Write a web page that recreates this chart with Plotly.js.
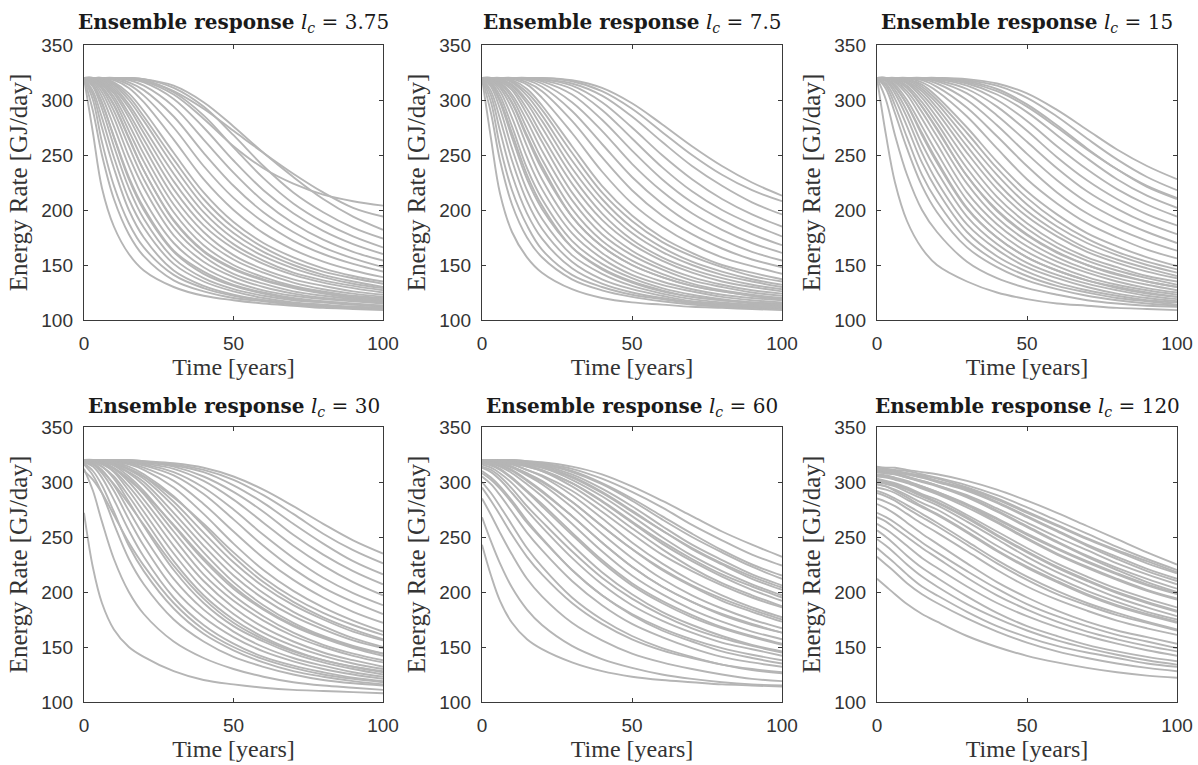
<!DOCTYPE html>
<html>
<head>
<meta charset="utf-8">
<script src="https://cdn.plot.ly/plotly-3.0.1.min.js"></script>
<style>html,body{margin:0;padding:0;background:#fff;}#chart{width:1198px;height:765px;}</style>
</head>
<body>
<div id="chart"></div>
<script>
// Time grid (years) at which each ensemble curve was read
const timeYears = [0, 3, 6, 10, 15, 20, 30, 40, 50, 60, 70, 80, 90, 100];

// Correlation lengths for each panel
const corrLengths = ['3.75', '7.5', '15', '30', '60', '120'];

// Ensemble curves, l_c = 3.75  (Energy Rate, GJ/day)
const curvesLc3_75 = [
  [320,270,220,185,160,145,130,122,118,115,113,111,110,109],
  [320,290,250,210,178,158,136,126,120,117,114,112,111,110],
  [320,305,275,238,200,175,145,131,123,118,115,113,112,111],
  [320,312,292,258,220,192,156,138,128,122,118,116,114,113],
  [320,316,303,276,240,210,170,148,135,127,122,119,117,115],
  [320,318,310,290,258,228,184,158,142,133,126,122,119,117],
  [320,319,314,300,272,244,198,168,150,139,131,126,122,120],
  [320,320,316,306,284,258,212,180,159,146,137,131,126,123],
  [320,320,318,310,293,270,226,192,169,154,143,136,131,127],
  [320,320,319,314,300,281,240,204,179,162,150,141,135,130],
  [320,320,320,316,306,290,252,216,189,170,157,147,140,135],
  [320,320,320,318,311,298,264,228,200,179,164,153,145,139],
  [320,320,320,319,314,304,275,240,211,189,172,160,151,144],
  [320,320,320,320,316,309,285,252,222,198,180,166,156,148],
  [320,320,320,320,318,313,294,264,234,208,188,173,162,154],
  [320,320,320,320,319,316,301,275,245,218,197,181,169,160],
  [320,320,320,320,320,318,307,286,257,229,206,189,176,166],
  [320,320,320,320,320,319,311,294,268,240,216,198,184,174],
  [320,320,320,320,320,319,313,298,276,252,230,210,194,182],
  [320,320,320,320,319,317,305,283,258,238,224,214,208,204],
  [320,320,320,320,320,318,308,292,272,252,233,216,202,194],
  [320,300,262,222,188,166,141,129,122,118,115,113,111,110],
  [320,314,298,266,228,200,162,142,131,124,119,116,114,112],
  [320,319,312,296,266,236,190,162,146,136,129,124,120,118],
  [320,308,284,248,210,184,151,135,126,120,116,114,112,111],
  [320,314,297,267,230,202,163,144,132,125,120,117,115,113],
  [320,317,307,284,249,220,177,153,139,130,124,120,118,116],
  [320,319,312,295,265,236,191,163,147,137,130,125,121,119],
  [320,320,315,303,278,251,205,174,155,143,134,128,124,121],
  [320,320,317,308,288,264,219,186,165,151,141,134,129,125],
  [320,320,319,312,296,275,233,198,174,158,147,139,133,129],
  [320,320,320,315,303,285,246,210,184,166,153,144,138,133]
];

// Ensemble curves, l_c = 7.5
const curvesLc7_5 = [
  [320,265,215,180,157,143,128,120,116,114,112,111,110,109],
  [320,288,245,205,175,157,137,127,121,117,114,112,111,110],
  [320,304,272,232,197,174,147,133,125,120,116,114,112,111],
  [320,312,292,256,218,192,159,142,131,124,119,116,114,113],
  [320,316,304,276,238,210,172,151,138,129,123,119,116,115],
  [320,318,311,292,258,228,186,161,145,135,128,123,120,118],
  [320,319,315,302,274,246,201,172,154,142,133,127,123,120],
  [320,320,317,309,287,262,216,184,163,149,139,132,127,124],
  [320,320,319,313,297,275,231,197,173,157,146,138,132,128],
  [320,320,320,316,304,286,245,210,184,166,153,144,137,132],
  [320,320,320,318,310,295,258,222,195,175,161,150,143,137],
  [320,320,320,319,314,302,270,235,206,185,169,157,149,142],
  [320,320,320,320,316,308,281,248,218,195,178,165,155,148],
  [320,320,320,320,318,312,290,260,230,206,187,173,162,154],
  [320,320,320,320,319,315,298,272,242,217,197,182,170,161],
  [320,320,320,320,320,317,305,282,254,228,207,191,178,168],
  [320,320,320,320,320,318,310,291,265,239,217,200,187,176],
  [320,320,320,320,320,319,313,298,275,250,228,210,196,185],
  [320,320,320,320,320,319,315,304,285,262,240,222,207,196],
  [320,320,320,320,320,320,317,308,292,271,250,232,218,208],
  [320,320,320,320,320,320,318,311,297,278,258,240,225,213],
  [320,298,258,218,186,164,141,130,123,119,115,113,112,111],
  [320,315,300,270,232,204,166,146,134,126,121,118,116,114],
  [320,319,313,298,268,240,194,167,150,139,131,126,122,119],
  [320,308,283,245,208,183,153,137,128,122,117,115,113,112],
  [320,314,298,266,228,201,166,147,135,127,121,118,115,114],
  [320,317,308,284,248,219,179,156,141,132,126,121,118,116],
  [320,319,313,297,266,237,194,167,150,139,131,126,122,119],
  [320,320,316,305,281,254,209,178,159,146,136,130,125,122],
  [320,320,318,311,292,268,224,191,169,154,143,135,130,126],
  [320,320,319,314,300,281,238,204,179,162,150,141,135,130],
  [320,320,320,317,307,291,252,216,190,171,158,148,140,135]
];

// Ensemble curves, l_c = 15
const curvesLc15 = [
  [320,268,225,190,165,150,135,125,119,115,113,111,110,109],
  [320,300,268,232,200,180,153,138,129,123,118,115,113,112],
  [320,310,288,256,222,198,166,148,136,128,122,118,115,113],
  [320,315,301,276,243,218,180,158,144,134,127,122,118,116],
  [320,318,309,290,260,235,194,169,152,141,133,127,122,119],
  [320,319,314,300,276,252,209,181,162,149,139,132,127,123],
  [320,320,317,308,289,267,224,193,172,157,146,138,132,127],
  [320,320,319,313,298,279,238,206,183,166,154,145,138,132],
  [320,320,320,316,305,289,252,219,194,176,162,152,144,138],
  [320,320,320,318,310,297,264,232,205,185,170,159,150,143],
  [320,320,320,319,314,303,275,244,217,196,179,167,157,149],
  [320,320,320,320,316,308,285,256,228,206,188,175,164,156],
  [320,320,320,320,318,312,293,267,240,216,197,183,172,163],
  [320,320,320,320,319,315,300,277,251,227,207,192,180,170],
  [320,320,320,320,320,317,306,286,262,238,217,201,188,178],
  [320,320,320,320,320,318,310,294,272,248,227,210,196,186],
  [320,320,320,320,320,319,313,300,281,258,237,219,205,194],
  [320,320,320,320,320,320,315,305,289,268,247,228,213,202],
  [320,320,320,320,320,320,317,310,296,277,256,237,221,210],
  [320,320,320,320,320,320,318,313,302,285,265,246,230,218],
  [320,320,320,320,320,320,319,315,306,291,273,255,240,228],
  [320,320,320,320,320,319,316,308,294,275,255,237,222,211],
  [320,319,312,296,270,245,202,175,157,145,136,129,124,121],
  [320,320,318,311,294,274,231,200,178,162,150,142,135,130],
  [320,313,295,266,232,208,173,153,140,131,125,120,117,114],
  [320,317,306,284,252,226,187,164,148,138,130,124,120,117],
  [320,319,312,296,268,243,201,175,157,145,136,130,125,121],
  [320,320,316,305,283,260,216,187,167,153,143,135,129,125],
  [320,320,318,311,294,273,231,199,177,161,150,141,135,130],
  [320,320,319,315,302,284,245,212,188,170,157,148,140,135],
  [320,320,320,317,308,293,258,225,199,180,165,155,147,140],
  [320,320,320,319,312,300,270,238,211,190,174,162,153,146]
];

// Ensemble curves, l_c = 30
const curvesLc30 = [
  [272,222,190,166,150,141,128,120,116,113,111,110,109,108],
  [312,292,264,230,200,180,155,140,130,123,118,115,113,111],
  [316,306,290,262,230,207,175,155,141,132,125,120,117,115],
  [318,314,304,284,256,232,195,170,153,141,133,127,122,119],
  [319,317,311,297,274,251,212,184,164,150,140,133,127,123],
  [320,318,314,305,287,267,228,197,175,159,147,138,132,127],
  [320,319,316,310,296,279,242,210,186,168,155,145,138,132],
  [320,319,318,313,303,289,255,223,197,178,163,152,144,138],
  [320,320,319,315,308,297,267,236,209,188,172,160,151,144],
  [320,320,319,317,311,303,278,248,221,199,182,169,158,150],
  [320,320,319,318,314,307,287,260,232,209,191,177,166,157],
  [320,320,320,318,316,311,295,271,244,220,201,186,174,164],
  [320,320,320,319,317,313,301,280,255,231,211,195,182,172],
  [320,320,320,319,318,315,306,289,266,242,221,204,191,180],
  [320,320,320,319,318,316,309,295,275,252,231,213,199,188],
  [320,320,320,320,319,317,312,301,284,263,242,224,209,197],
  [320,320,320,320,319,318,314,305,291,273,252,234,219,207],
  [320,320,320,320,319,318,315,309,297,281,262,244,228,216],
  [320,320,320,320,320,319,316,311,302,288,271,253,238,226],
  [320,320,320,320,320,319,317,313,305,293,278,262,247,235],
  [310,302,290,270,245,224,190,166,150,139,131,125,121,118],
  [318,316,310,298,280,261,224,194,172,157,146,138,132,128],
  [320,319,317,312,302,290,261,231,205,185,170,159,150,144],
  [320,320,319,317,312,305,286,262,236,213,195,181,170,161],
  [317,310,297,273,242,219,185,162,147,136,128,123,119,116],
  [319,316,308,292,266,242,203,177,159,146,137,130,125,121],
  [320,318,314,303,282,260,220,190,169,155,144,136,130,125],
  [320,319,317,309,292,273,235,203,180,163,151,142,135,130],
  [320,320,318,312,300,284,249,216,192,174,160,150,142,136],
  [320,320,319,315,305,292,260,229,203,184,169,158,149,142],
  [320,320,319,316,309,300,272,242,215,194,178,166,156,149],
  [320,320,320,318,312,305,282,254,227,205,188,175,164,156]
];

// Ensemble curves, l_c = 60
const curvesLc60 = [
  [243,215,192,172,157,148,136,128,123,120,118,116,115,114],
  [268,246,226,204,184,170,151,139,131,125,121,118,116,115],
  [285,270,254,234,212,196,172,156,144,136,130,125,121,119],
  [300,290,278,261,240,223,195,175,160,149,141,134,129,126],
  [310,304,296,283,265,249,220,197,179,165,155,146,140,135],
  [316,313,308,299,285,271,243,218,198,182,170,160,152,146],
  [318,317,314,308,298,287,262,237,215,198,184,173,164,157],
  [319,319,317,313,306,298,277,253,231,212,197,185,175,167],
  [320,319,318,316,311,305,288,267,245,226,210,197,186,177],
  [320,320,319,317,314,310,296,278,258,239,222,208,197,187],
  [320,320,319,318,316,313,302,287,269,250,233,219,207,197],
  [320,320,320,319,317,315,307,294,278,260,243,229,216,206],
  [320,320,320,319,318,316,310,299,285,269,253,238,225,215],
  [320,320,320,320,319,317,312,303,291,277,261,247,234,224],
  [320,320,320,320,319,318,314,307,296,283,269,255,243,232],
  [295,283,270,252,232,216,190,171,157,147,140,134,130,127],
  [313,309,302,290,274,259,231,207,188,174,163,154,148,142],
  [318,316,312,304,292,280,254,229,208,192,179,168,160,153],
  [320,319,318,314,308,301,282,260,239,220,205,192,182,173],
  [320,320,319,318,315,311,299,282,263,244,228,214,202,192],
  [320,320,319,318,316,314,305,291,274,256,239,225,212,202],
  [320,320,320,319,318,316,309,298,283,266,250,236,223,212],
  [305,298,288,273,254,238,210,188,171,159,149,141,136,132],
  [319,318,316,311,302,292,269,245,223,205,191,179,170,163],
  [314,311,305,294,278,264,237,213,194,179,167,158,151,145],
  [317,315,311,303,291,278,252,227,206,190,177,167,159,152],
  [318,317,315,310,301,291,269,245,223,205,191,180,171,163],
  [319,318,317,314,307,300,282,260,239,221,206,194,184,175],
  [320,319,318,316,311,306,292,273,253,234,219,206,195,186],
  [320,320,319,317,314,310,299,283,264,246,230,216,205,195],
  [320,320,319,318,316,313,304,290,273,256,240,226,214,204],
  [308,302,294,281,263,248,220,197,180,167,157,149,143,138]
];

// Ensemble curves, l_c = 120
const curvesLc120 = [
  [212,205,198,189,180,173,160,150,142,136,131,127,124,122],
  [232,225,218,208,198,190,176,164,154,146,140,135,131,128],
  [248,242,235,225,214,205,189,176,165,156,149,143,138,134],
  [262,257,251,242,231,222,205,190,178,168,160,153,147,142],
  [272,268,263,255,245,236,219,203,189,178,169,161,155,149],
  [285,282,278,271,262,254,237,220,205,193,183,174,167,161],
  [295,293,290,284,277,270,254,237,222,209,197,187,179,172],
  [302,300,298,294,288,282,268,252,237,223,211,200,191,183],
  [307,306,304,301,296,291,279,264,249,235,223,212,202,194],
  [310,309,308,305,301,297,287,274,260,246,233,222,212,203],
  [312,311,310,308,305,301,293,282,269,256,243,232,221,212],
  [313,312,311,310,307,304,297,288,277,265,253,241,230,220],
  [314,313,313,311,309,307,301,293,283,272,260,248,236,225],
  [256,250,243,233,222,213,196,181,169,160,152,146,141,137],
  [280,276,271,263,253,244,226,209,195,183,173,165,159,153],
  [292,289,285,279,271,263,246,229,214,201,190,181,173,166],
  [300,298,296,291,285,279,264,248,232,218,206,195,186,178],
  [305,304,302,299,294,289,277,263,248,234,222,211,201,193],
  [309,308,307,304,300,296,286,273,259,245,232,220,209,200],
  [311,310,309,307,304,300,292,281,268,255,242,230,219,210],
  [240,233,226,216,205,197,182,169,159,151,145,140,135,132],
  [298,296,293,288,281,275,259,242,227,213,201,191,182,175],
  [306,305,303,300,295,290,279,266,252,239,227,216,206,198],
  [312,311,310,308,306,303,295,285,273,261,249,238,228,218],
  [298,296,292,286,278,271,255,238,223,210,198,188,180,173],
  [303,301,299,295,289,284,270,255,240,226,214,203,194,186],
  [306,305,303,300,296,291,280,267,253,240,228,217,207,199],
  [309,308,307,304,301,297,288,276,263,250,238,226,216,207],
  [311,310,309,307,304,301,294,284,272,260,248,237,226,217],
  [290,287,283,276,268,260,243,226,211,198,188,179,172,165],
  [301,299,297,293,287,281,267,251,236,222,210,199,190,182],
  [268,264,258,250,240,231,213,197,184,173,164,157,151,146]
];

const xTickVals = [0, 50, 100];
const yTickVals = [100, 150, 200, 250, 300, 350];
const xTitleText = 'Time [years]';
const yTitleText = 'Energy Rate [GJ/day]';

const panelCurves = [curvesLc3_75, curvesLc7_5, curvesLc15, curvesLc30, curvesLc60, curvesLc120];

// ---- layout geometry (pixels) ----
const W = 1198, H = 765;
const colLeft = [84, 482, 877], colRight = [383, 782, 1177];
const rowTop = [45, 427], rowBottom = [320, 702];
const titleY = [23, 407];

const traces = [];
const layout = {
  width: W, height: H, autosize: false,
  margin: {l: 0, r: 0, t: 0, b: 0, pad: 0},
  paper_bgcolor: '#ffffff', plot_bgcolor: '#ffffff',
  showlegend: false, hovermode: false,
  annotations: []
};

const axisColor = '#3a3a3a';
const tickFont = {family: '"Liberation Sans", Arial, sans-serif', size: 19, color: '#333333'};
const serifFont = '"Liberation Serif", "Times New Roman", serif';

panelCurves.forEach((curves, i) => {
  const sfx = i === 0 ? '' : String(i + 1);
  const row = Math.floor(i / 3), col = i % 3;
  curves.forEach(vals => {
    traces.push({
      type: 'scatter', mode: 'lines',
      x: timeYears, y: vals,
      xaxis: 'x' + sfx, yaxis: 'y' + sfx,
      line: {color: '#b5b5b5', width: 1.9, shape: 'spline', smoothing: 1},
      hoverinfo: 'skip'
    });
  });
  const common = {
    showline: true, mirror: 'ticks', linecolor: axisColor, linewidth: 1.2,
    ticks: 'inside', ticklen: 4, tickwidth: 1, tickcolor: axisColor,
    showgrid: false, zeroline: false, tickfont: tickFont,
    fixedrange: true, ticklabelstandoff: 6, automargin: false
  };
  layout['xaxis' + sfx] = Object.assign({}, common, {
    domain: [colLeft[col] / W, colRight[col] / W],
    range: [0, 100], tickmode: 'array', tickvals: xTickVals,
    anchor: 'y' + sfx,
    title: {text: xTitleText, standoff: 4, font: {family: serifFont, size: 24, color: '#333333'}}
  });
  layout['yaxis' + sfx] = Object.assign({}, common, {
    domain: [1 - rowBottom[row] / H, 1 - rowTop[row] / H],
    range: [100, 350], tickmode: 'array', tickvals: yTickVals,
    anchor: 'x' + sfx,
    title: {text: yTitleText, standoff: 6, font: {family: serifFont, size: 25, color: '#333333'}}
  });
  const cx = (colLeft[col] + colRight[col]) / 2 / W;
  // subplot title
  layout.annotations.push({
    xref: 'paper', yref: 'paper', x: cx, y: 1 - titleY[row] / H,
    xanchor: 'center', yanchor: 'middle', showarrow: false,
    text: '<b>Ensemble response</b> <i>l</i><sub><i>c</i></sub> = ' + corrLengths[i],
    font: {family: '"DejaVu Serif", serif', size: 20, color: '#1a1a1a'}
  });
});

Plotly.newPlot('chart', traces, layout, {staticPlot: true, displayModeBar: false});
</script>
</body>
</html>
